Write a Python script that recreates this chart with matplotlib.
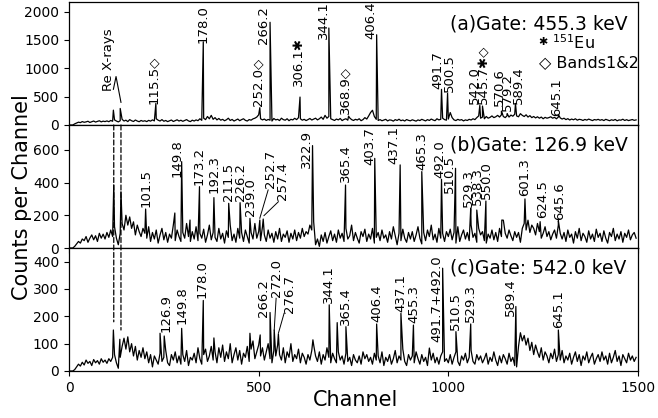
import numpy as np
import matplotlib
matplotlib.use('Agg')
import matplotlib.pyplot as plt
from matplotlib.patches import ConnectionPatch

plt.rcParams['font.family'] = ['DejaVu Sans']

# ---------------- data ----------------
channels = np.arange(0, 1500, 5)

bg_a = [0, 0, 0, 20, 35, 50, 42, 60, 48, 55, 66, 45, 58, 70, 52, 64, 75, 55, 68, 60,
        72, 58, 80, 66, 90, 70, 55, 75, 100, 70, 85, 60, 95, 75, 62, 88, 70, 58, 80, 66,
        75, 60, 82, 68, 90, 72, 110, 85, 70, 95, 66, 80, 60, 74, 88, 62, 78, 92, 70, 84,
        65, 80, 95, 72, 60, 85, 70, 90, 76, 110, 82, 120, 95, 150, 110, 170, 100, 130, 90, 115,
        85, 100, 75, 92, 120, 80, 98, 70, 88, 105, 76, 95, 110, 82, 70, 96, 85, 108, 120, 140,
        180, 110, 90, 105, 80, 98, 85, 70, 115, 90, 100, 78, 120, 95, 85, 110, 76, 100, 90, 118,
        95, 130, 110, 85, 100, 78, 95, 115, 88, 105, 120, 90, 110, 140, 100, 170, 120, 150, 110, 95,
        80, 105, 90, 115, 78, 98, 110, 85, 125, 95, 80, 100, 88, 110, 76, 95, 130, 105, 160, 220,
        260, 150, 100, 80, 95, 75, 88, 100, 72, 90, 85, 68, 95, 80, 102, 76, 88, 70, 96, 82,
        74, 92, 80, 68, 90, 78, 100, 85, 72, 95, 80, 105, 88, 76, 110, 90, 100, 120, 95, 85,
        105, 220, 130, 90, 78, 100, 85, 95, 72, 90, 80, 100, 88, 110, 95, 130, 160, 120, 140, 110,
        150, 120, 135, 160, 130, 145, 170, 140, 180, 150, 130, 165, 140, 175, 155, 190, 160, 145, 200, 170,
        150, 180, 140, 165, 130, 150, 125, 145, 120, 140, 110, 135, 120, 130, 145, 120, 135, 110, 140, 125,
        105, 120, 95, 112, 88, 105, 92, 110, 85, 100, 94, 80, 98, 86, 104, 90, 78, 96, 88, 100,
        84, 95, 78, 100, 88, 76, 92, 82, 98, 74, 90, 85, 102, 80, 94, 78, 88, 96, 82, 90]
peaks_a_ch = [117, 135, 229, 354, 503, 530, 609, 685, 737, 811, 982, 998, 1083, 1090, 1140, 1155, 1177, 1290]
peaks_a_cts = [262, 292, 381, 1468, 305, 1812, 493, 1711, 156, 1592, 629, 558, 346, 334, 245, 200, 381, 186]

bg_b = [0, 0, 0, 10, 25, 40, 30, 55, 45, 70, 35, 60, 80, 50, 75, 40, 90, 60, 85, 55,
        95, 65, 110, 70, 130, 60, 20, 90, 150, 110, 200, 140, 190, 120, 160, 80, 140, 100, 70, 120,
        90, 60, 130, 40, 95, 55, 110, 30, 80, 120, 50, 95, 35, 85, 60, 140, 45, 110, 70, 40,
        95, 60, 150, 70, 40, 100, 55, 130, 45, 90, 60, 115, 35, 80, 140, 50, 95, 65, 40, 120,
        55, 90, 30, 105, 65, 140, 45, 85, 35, 120, 60, 95, 40, 110, 70, 30, 95, 55, 150, 60,
        100, 45, 130, 80, 40, 110, 60, 90, 35, 100, 55, 120, 40, 85, 65, 105, 35, 90, 55, 110,
        45, 95, 60, 120, 70, 100, 85, 140, 110, 160, 20, 55, 10, 80, 40, 95, 30, 70, 105, 45,
        85, 35, 110, 60, 90, 40, 120, 55, 75, 140, 45, 95, 60, 30, 100, 70, 115, 40, 85, 55,
        120, 30, 65, 95, 45, 110, 60, 80, 35, 100, 55, 130, 75, 20, 90, 45, 115, 60, 35, 95,
        55, 100, 40, 80, 130, 60, 25, 95, 45, 110, 70, 140, 50, 85, 35, 120, 60, 90, 40, 100,
        70, 115, 50, 95, 30, 130, 40, 80, 110, 55, 95, 45, 140, 65, 90, 35, 120, 80, 100, 45,
        30, 85, 60, 110, 50, 95, 40, 120, 70, 170, 90, 60, 110, 75, 45, 100, 65, 95, 35, 120,
        150, 110, 170, 95, 140, 120, 80, 150, 100, 60, 90, 130, 70, 100, 50, 85, 110, 60, 140, 90,
        55, 95, 40, 110, 65, 85, 30, 100, 60, 120, 45, 90, 70, 35, 105, 55, 85, 40, 115, 65,
        90, 40, 105, 60, 30, 95, 70, 120, 45, 85, 55, 100, 35, 90, 65, 110, 50, 80, 95, 60]
peaks_b_ch = [118, 137, 202, 279, 297, 319, 344, 382, 421, 451, 477, 503, 512, 642, 729, 806, 873, 930, 982,
              1019, 1059, 1075, 1099, 1141, 1202, 1242, 1290]
peaks_b_cts = [385, 344, 238, 214, 528, 171, 375, 308, 273, 277, 181, 171, 177, 626, 385, 548, 508, 467, 420,
               487, 243, 232, 287, 171, 300, 161, 167]

bg_c = [0, 0, 0, 5, 15, 25, 18, 32, 22, 40, 28, 35, 20, 42, 30, 38, 25, 45, 32, 40,
        28, 45, 35, 50, 60, 30, 10, 50, 90, 120, 80, 125, 70, 100, 55, 90, 40, 75, 50, 85,
        45, 70, 30, 60, 15, 55, 40, 25, 65, 35, 50, 75, 30, 20, 60, 40, 70, 30, 55, 25,
        60, 35, 75, 20, 50, 40, 65, 30, 85, 45, 25, 60, 80, 35, 55, 90, 40, 70, 30, 85,
        50, 95, 35, 70, 45, 100, 30, 60, 85, 40, 75, 25, 65, 50, 90, 35, 80, 110, 45, 70,
        95, 55, 85, 40, 70, 100, 45, 30, 75, 55, 95, 60, 40, 85, 30, 70, 50, 100, 35, 60,
        45, 80, 30, 65, 50, 25, 60, 40, 75, 95, 55, 35, 70, 25, 60, 40, 85, 50, 30, 65,
        45, 30, 70, 40, 55, 25, 65, 35, 50, 20, 60, 40, 30, 55, 25, 70, 45, 60, 35, 50,
        25, 65, 40, 55, 30, 70, 20, 50, 35, 60, 25, 45, 75, 30, 55, 40, 80, 35, 20, 60,
        40, 55, 30, 70, 45, 25, 60, 35, 50, 20, 84, 40, 65, 30, 50, 25, 55, 70, 35, 45,
        30, 60, 25, 50, 70, 35, 20, 55, 40, 65, 30, 50, 75, 35, 25, 60, 40, 55, 30, 45,
        65, 25, 50, 35, 70, 40, 20, 55, 30, 60, 45, 25, 65, 35, 50, 20, 15, 90, 140, 110,
        130, 95, 120, 75, 105, 60, 95, 70, 50, 85, 40, 70, 55, 30, 65, 45, 80, 35, 60, 40,
        75, 30, 55, 40, 65, 25, 50, 70, 35, 60, 20, 55, 40, 70, 30, 50, 65, 25, 45, 60,
        35, 70, 40, 55, 25, 65, 30, 50, 75, 35, 55, 20, 60, 45, 30, 65, 40, 55, 35, 50]
peaks_c_ch = [117, 134, 240, 251, 297, 354, 382, 477, 504, 530, 541, 552, 643, 686, 707, 730, 811, 875, 908,
              985, 1020, 1059, 1178, 1290]
peaks_c_cts = [150, 116, 138, 128, 156, 258, 121, 138, 132, 214, 150, 135, 114, 242, 177, 162, 172, 211, 168,
               376, 144, 172, 236, 150]

# peak labels: text, channel, bottom of label (counts)
lab_a_txt = ['115.5\u25c7', '178.0', '252.0\u25c7', '266.2', '306.1\u2731', '344.1', '368.9\u25c7', '406.4',
             '491.7', '500.5', '542.0', '545.7\u2731\u25c7', '570.6', '579.2', '589.4', '645.1']
lab_a_ch = [223, 354, 498, 514, 606, 670, 728, 796, 973, 1002, 1068, 1094, 1136, 1157, 1184, 1286]
lab_a_y = [363, 1440, 333, 1427, 688, 1516, 186, 1516, 629, 576, 363, 363, 328, 239, 363, 151]

lab_b_txt = ['101.5', '149.8', '173.2', '192.3', '211.5', '226.2', '239.0', '252.7', '257.4', '322.9', '365.4',
             '403.7', '437.1', '465.3', '492.0', '510.5', '529.3', '538.3', '550.0', '601.3', '624.5', '645.6']
lab_b_ch = [202, 285, 343, 382, 421, 451, 479, 530, 563, 627, 728, 793, 857, 930, 978, 1004, 1053, 1076, 1101,
            1202, 1249, 1294]
lab_b_y = [253, 436, 385, 335, 287, 287, 198, 367, 294, 491, 405, 508, 512, 477, 426, 335, 253, 263, 300, 320,
           183, 171]

lab_c_txt = ['126.9', '149.8', '178.0', '266.2', '272.0', '276.7', '344.1', '365.4', '406.4', '437.1', '455.3',
             '491.7+492.0', '510.5', '529.3', '589.4', '645.1']
lab_c_ch = [256, 297, 352, 514, 547, 581, 684, 729, 811, 875, 909, 969, 1020, 1059, 1163, 1290]
lab_c_y = [144, 172, 266, 199, 272, 214, 248, 168, 181, 217, 175, 107, 150, 181, 201, 156]

gates = ['(a)Gate: 455.3 keV', '(b)Gate: 126.9 keV', '(c)Gate: 542.0 keV']
xray_ch = [118, 137]

# ---------------- figure ----------------
fig = plt.figure(figsize=(6.58, 4.18), dpi=100)
L, W = 69 / 658, 569 / 658
axa = fig.add_axes([L, 1 - 125 / 418, W, 123 / 418])
axb = fig.add_axes([L, 1 - 248 / 418, W, 123 / 418])
axc = fig.add_axes([L, 1 - 371 / 418, W, 123 / 418])


def merged(bg, pch, pct):
    x = np.concatenate([channels, np.array(pch)])
    y = np.concatenate([np.array(bg, float), np.array(pct, float)])
    o = np.argsort(x, kind='stable')
    return x[o], y[o]


panels = [
    (axa, bg_a, peaks_a_ch, peaks_a_cts, lab_a_txt, lab_a_ch, lab_a_y, (0, 2170), [0, 500, 1000, 1500, 2000], 0.82),
    (axb, bg_b, peaks_b_ch, peaks_b_cts, lab_b_txt, lab_b_ch, lab_b_y, (0, 752), [0, 200, 400, 600], 0.837),
    (axc, bg_c, peaks_c_ch, peaks_c_cts, lab_c_txt, lab_c_ch, lab_c_y, (0, 450), [0, 100, 200, 300, 400], 0.835),
]

for i, (ax, bg, pch, pct, lt, lc, ly, yl, yt, gy) in enumerate(panels):
    x, y = merged(bg, pch, pct)
    ax.plot(x, y, color='black', lw=0.9)
    ax.set_xlim(0, 1500)
    ax.set_ylim(*yl)
    ax.set_yticks(yt)
    ax.set_xticks([0, 500, 1000, 1500])
    ax.tick_params(direction='out', length=3.5, width=0.8, labelsize=10)
    if i < 2:
        ax.tick_params(labelbottom=False)
    for s in ax.spines.values():
        s.set_linewidth(0.9)
    for t, c, yy in zip(lt, lc, ly):
        ax.text(c, yy, t, rotation=90, ha='center', va='bottom', fontsize=9.5)
    ax.text(0.67, gy, gates[i], transform=ax.transAxes, ha='left', va='center', fontsize=13.5)

# legend-like notes in (a)
axa.text(0.833, 0.672, '\u2731', transform=axa.transAxes, ha='center', va='center', fontsize=8)
axa.text(0.848, 0.672, r'$^{151}$Eu', transform=axa.transAxes, ha='left', va='center', fontsize=11.5)
axa.text(0.826, 0.508, '\u25c7 Bands1&2', transform=axa.transAxes, ha='left', va='center', fontsize=11.5)

# Re X-rays annotation
axa.text(105, 594, 'Re X-rays', rotation=90, ha='center', va='bottom', fontsize=9.5)
axa.plot([117, 124, 137], [630, 855, 400], color='black', lw=0.8)

# leader lines
axb.plot([503, 525], [182, 355], color='black', lw=0.7)
axb.plot([514, 552], [198, 283], color='black', lw=0.7)
axc.plot([541, 546], [150, 266], color='black', lw=0.7)
axc.plot([552, 567], [138, 211], color='black', lw=0.7)

# dashed x-ray lines from (b) top into (c)
for ch, yend in zip(xray_ch, [180, 150]):
    cp = ConnectionPatch(xyA=(ch, 752), coordsA=axb.transData, xyB=(ch, yend), coordsB=axc.transData,
                         linestyle=(0, (4, 2)), color='black', lw=0.9)
    fig.add_artist(cp)

fig.text(0.541, 0.043, 'Channel', ha='center', va='center', fontsize=15)
fig.text(0.033, 0.5275, 'Counts per Channel', ha='center', va='center', rotation=90, fontsize=15)

fig.savefig('out.png', dpi=100)
